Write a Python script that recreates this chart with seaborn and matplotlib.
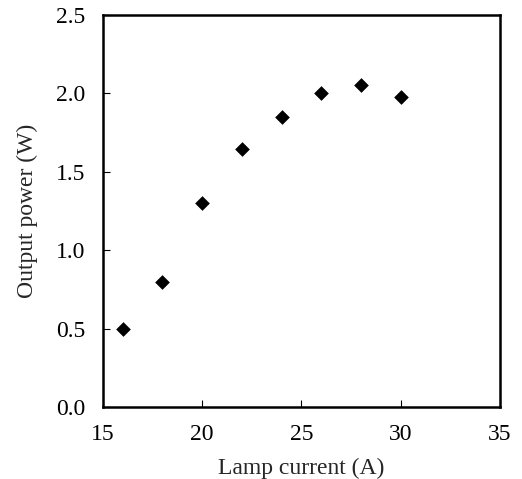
import matplotlib
matplotlib.use("Agg")
import matplotlib.pyplot as plt
import seaborn as sns
import pandas as pd

lamp_current = [16, 18, 20, 22, 24, 26, 28, 30]
output_power = [0.50, 0.80, 1.30, 1.645, 1.85, 2.00, 2.05, 1.975]
x_ticks = [15, 20, 25, 30, 35]
y_ticks = [0.0, 0.5, 1.0, 1.5, 2.0, 2.5]

sns.set_style("white")
plt.rcParams['font.family'] = ['Liberation Serif', 'DejaVu Serif']

df = pd.DataFrame({"x": lamp_current, "y": output_power})

fig = plt.figure(figsize=(5.22, 4.79), dpi=100)
ax = fig.add_axes([0.197, 0.150, 0.761, 0.819])
sns.scatterplot(data=df, x="x", y="y", marker="D", s=56, color="black",
                edgecolor="black", linewidth=0, ax=ax)
ax.set_xlim(15, 35)
ax.set_ylim(0, 2.5)
ax.set_xticks(x_ticks)
ax.set_xticklabels([str(v) for v in x_ticks])
ax.set_yticks(y_ticks)
ax.set_yticklabels([f"{v:.1f}" for v in y_ticks])
ax.tick_params(direction="in", length=5, width=0.8, colors="black",
               labelsize=17, bottom=True, left=True)
ax.tick_params(axis="x", pad=12)
ax.tick_params(axis="y", pad=12.5)
for sp in ax.spines.values():
    sp.set_color("black")
    sp.set_linewidth(1.8)
ax.set_xlabel("Lamp current (A)", fontsize=17, labelpad=9)
ax.set_ylabel("Output power (W)", fontsize=17, labelpad=13)
fig.savefig("out.png", dpi=100)
